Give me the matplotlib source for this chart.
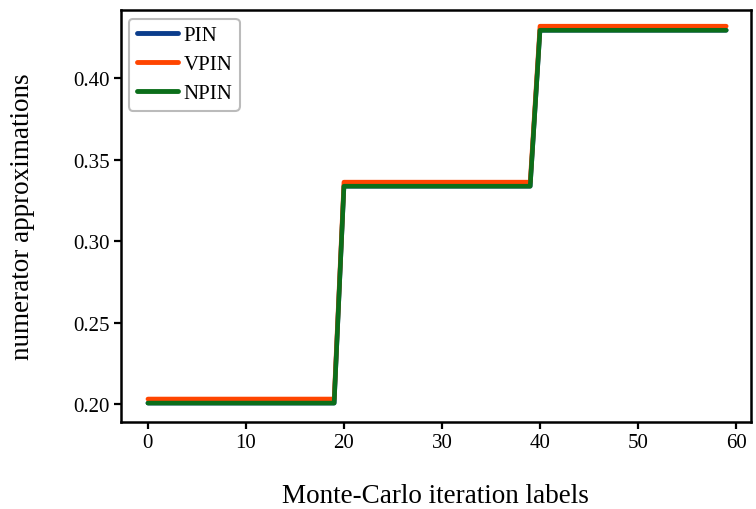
import matplotlib
matplotlib.use("Agg")
import matplotlib.pyplot as plt

# Monte-Carlo iteration labels 0..59
iterations = list(range(60))

pin = (
    [0.2006] * 20
    + [0.3337] * 20
    + [0.4294] * 20
)
vpin = (
    [0.2031] * 20
    + [0.3362] * 20
    + [0.4319] * 20
)
npin = (
    [0.2006] * 20
    + [0.3337] * 20
    + [0.4294] * 20
)

series_names = ["PIN", "VPIN", "NPIN"]
series_colors = ["#0b3d8c", "#ff4500", "#0b6e1a"]

plt.rcParams["font.family"] = ["Liberation Serif", "DejaVu Serif"]

fig = plt.figure(figsize=(7.56, 5.10), dpi=100)
ax = fig.add_axes([0.160, 0.1706, 0.833, 0.8074])

for vals, name, col in zip([pin, vpin, npin], series_names, series_colors):
    ax.plot(iterations, vals, color=col, linewidth=3.3, label=name,
            solid_capstyle="round", solid_joinstyle="round")

ax.set_xlim(-2.75, 61.5)
ax.set_ylim(0.189, 0.4417)
ax.set_xticks([0, 10, 20, 30, 40, 50, 60])
ax.set_yticks([0.20, 0.25, 0.30, 0.35, 0.40])
ax.set_yticklabels(["0.20", "0.25", "0.30", "0.35", "0.40"])
ax.tick_params(axis="both", labelsize=15, length=5, width=1.6, direction="out", pad=3)

for sp in ax.spines.values():
    sp.set_linewidth(1.8)
    sp.set_color("black")

ax.set_xlabel("Monte-Carlo iteration labels", fontsize=19.5, va="center")
ax.set_ylabel("numerator approximations", fontsize=19.5, va="center")
ax.xaxis.set_label_coords(0.5, -0.178)
ax.yaxis.set_label_coords(-0.157, 0.5)

leg = ax.legend(loc="upper left", fontsize=15, handlelength=2.0, handletextpad=0.25,
                labelspacing=0.45, borderpad=0.35, fancybox=True,
                bbox_to_anchor=(0.0, 1.0), borderaxespad=0.4)
leg.get_frame().set_edgecolor("#aaaaaa")
leg.get_frame().set_linewidth(1.5)
for line in leg.get_lines():
    line.set_linewidth(3.5)

fig.savefig("out.png", dpi=100)
